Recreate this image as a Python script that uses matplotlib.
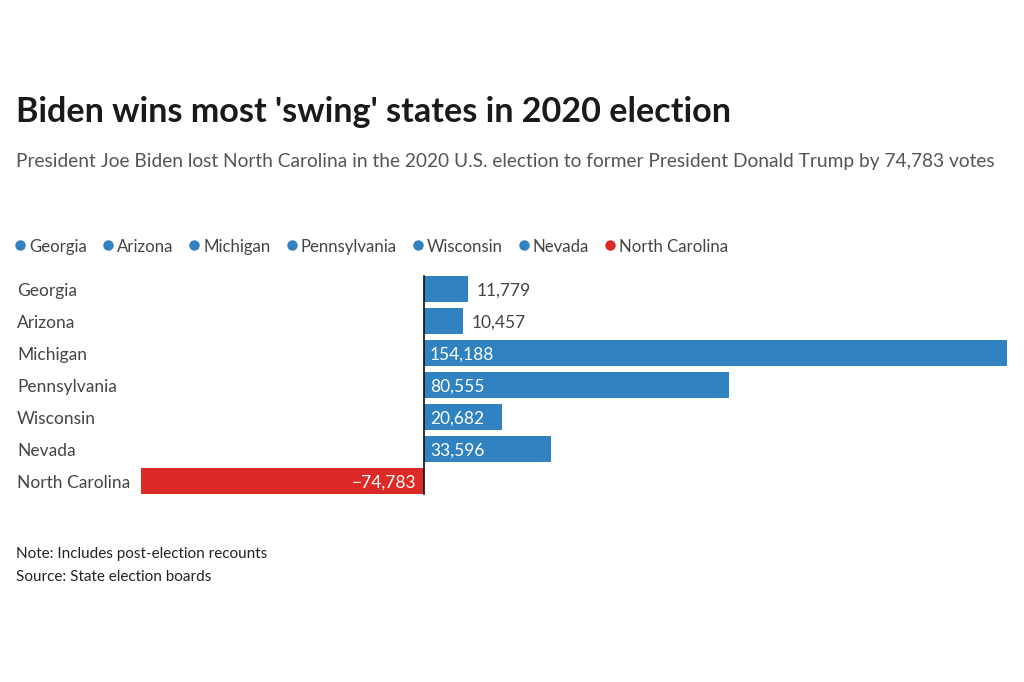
import matplotlib
matplotlib.use("Agg")
import matplotlib.pyplot as plt
from matplotlib.lines import Line2D

states = ["Georgia", "Arizona", "Michigan", "Pennsylvania", "Wisconsin", "Nevada", "North Carolina"]
margins = [11779, 10457, 154188, 80555, 20682, 33596, -74783]
title = "Biden wins most 'swing' states in 2020 election"
subtitle = ("President Joe Biden lost North Carolina in the 2020 U.S. election to former "
            "President Donald Trump by 74,783 votes")
note = "Note: Includes post-election recounts"
source = "Source: State election boards"

BLUE = "#3182c0"
RED = "#dc2b27"
FONT = "Lato"

plt.rcParams['font.family'] = [FONT, 'DejaVu Sans']

W, H = 1024, 682
fig = plt.figure(figsize=(W / 100, H / 100), dpi=100)
renderer = fig.canvas.get_renderer()


def fit_text(x, y, s, target_w, size, **kw):
    t = fig.text(x / W, 1 - y / H, s, fontsize=size, **kw)
    w = t.get_window_extent(renderer).width
    t.set_fontsize(size * target_w / w)
    return t


fit_text(16, 112, title, 714, 26, fontweight="bold", color="#1a1a1a", va="center")
fit_text(16, 161, subtitle, 986, 14, color="#555555", va="center")

# legend
x = 15
for s, v in zip(states, margins):
    col = RED if v < 0 else BLUE
    fig.add_artist(Line2D([(x + 5) / W], [1 - 245 / H], marker="o", markersize=7.5,
                          color=col, markeredgewidth=0, transform=fig.transFigure))
    t = fig.text((x + 14) / W, 1 - 247 / H, s, fontsize=12.1, color="#444444", va="center")
    w = t.get_window_extent(renderer).width
    x = x + 14 + w + 16

# bars
left, right, top, bottom = 141, 1007, 273, 497
ax = fig.add_axes([left / W, 1 - bottom / H, (right - left) / W, (bottom - top) / H])
ypos = list(range(len(states)))
cols = [RED if v < 0 else BLUE for v in margins]
ax.barh(ypos, margins, height=0.82, color=cols)
ax.set_xlim(min(margins), max(margins))
ax.set_ylim(len(states) - 0.5, -0.5)
ax.plot([0, 0], [-0.41, len(states) - 0.59], color="#111111", lw=1.2, zorder=3)
ax.axis("off")

xmax = max(margins)
for i, (s, v) in enumerate(zip(states, margins)):
    fig.text(17 / W, 1 - (291 + 32 * i) / H, s, fontsize=12.5, color="#444444", va="center")
    lab = f"{v:,}".replace("-", "\u2212")
    if v < 0:
        ax.annotate(lab, (0, i), xytext=(-7, -2), textcoords="offset pixels",
                    ha="right", va="center", fontsize=12.5, color="white",
                    annotation_clip=False, zorder=4)
    elif v < 0.1 * xmax:
        ax.annotate(lab, (v, i), xytext=(8, -2), textcoords="offset pixels",
                    ha="left", va="center", fontsize=12.5, color="#444444",
                    annotation_clip=False, zorder=4)
    else:
        ax.annotate(lab, (0, i), xytext=(6, -2), textcoords="offset pixels",
                    ha="left", va="center", fontsize=12.5, color="white",
                    annotation_clip=False, zorder=4)

fig.text(16 / W, 1 - 554 / H, note, fontsize=11, color="#222222", va="center")
fig.text(16 / W, 1 - 577 / H, source, fontsize=11, color="#222222", va="center")

fig.savefig("out.png", dpi=100, facecolor="white")
